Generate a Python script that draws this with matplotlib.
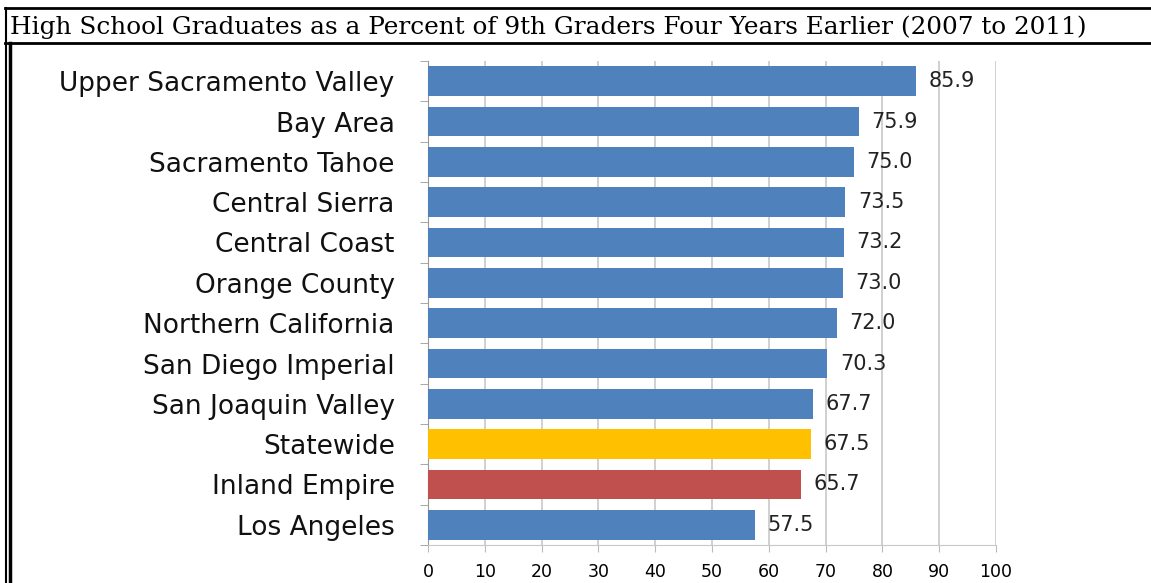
import matplotlib
matplotlib.use("Agg")
import matplotlib.pyplot as plt
from matplotlib.lines import Line2D

TITLE = "High School Graduates as a Percent of 9th Graders Four Years Earlier (2007 to 2011)"

regions = ["Upper Sacramento Valley", "Bay Area", "Sacramento Tahoe", "Central Sierra",
           "Central Coast", "Orange County", "Northern California", "San Diego Imperial",
           "San Joaquin Valley", "Statewide", "Inland Empire", "Los Angeles"]
rates = [85.9, 75.9, 75.0, 73.5, 73.2, 73.0, 72.0, 70.3, 67.7, 67.5, 65.7, 57.5]

BLUE = "#4F81BD"
HIGHLIGHT = {"Statewide": "#FFC000", "Inland Empire": "#C0504D"}

W, H = 1151, 583
fig = plt.figure(figsize=(W / 100, H / 100), dpi=100)
ax = fig.add_axes([428 / W, 1 - 545 / H, 568 / W, 484 / H])

ypos = list(range(len(regions)))
colors = [HIGHLIGHT.get(r, BLUE) for r in regions]
bars = ax.barh(ypos, rates, height=0.74, color=colors, zorder=3)

for bar, val in zip(bars, rates):
    ax.annotate(f"{val:.1f}", (bar.get_width(), bar.get_y() + bar.get_height() / 2),
                xytext=(9, 0), textcoords="offset points", va="center", ha="left",
                fontsize=15, color="#222222")

ax.set_xlim(0, 100)
ax.set_ylim(len(regions) - 0.5, -0.5)
ax.set_xticks(range(0, 101, 10))
ax.tick_params(axis="x", labelsize=12.5, length=5, color="#bbbbbb", pad=8)

# category labels, ticks at the boundaries like excel does it
ax.set_yticks(ypos)
ax.set_yticklabels(regions, fontsize=19, color="#111111")
ax.tick_params(axis="y", length=0, pad=24)
ax.set_yticks([i - 0.5 for i in range(len(regions) + 1)], minor=True)
ax.tick_params(axis="y", which="minor", length=6, color="#999999")

ax.grid(axis="x", color="#c8c8c8", linewidth=1.2, zorder=0)
for side in ("top", "right"):
    ax.spines[side].set_visible(False)
ax.spines["left"].set_color("#999999")
ax.spines["bottom"].set_color("#c8c8c8")

# title box
fig.text(10 / W, 1 - 27 / H, TITLE, fontsize=17.8, family="DejaVu Serif",
         ha="left", va="center")
for y in (8, 43):
    fig.add_artist(Line2D([5 / W, 1], [1 - y / H] * 2, color="black", lw=2))
fig.add_artist(Line2D([6 / W] * 2, [1 - 8 / H, 0], color="black", lw=1.5))
fig.add_artist(Line2D([9.5 / W] * 2, [1 - 43 / H, 0], color="black", lw=2.5))

fig.savefig("out.png", dpi=100)
